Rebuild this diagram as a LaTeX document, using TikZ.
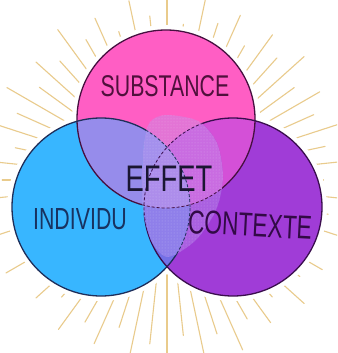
\documentclass[tikz,border=0pt]{standalone}
\usepackage{fontspec}
\setmainfont{Liberation Sans}
\usetikzlibrary{patterns,calc}
\definecolor{raycol}{RGB}{233,203,140}
\definecolor{cpink}{RGB}{255,94,196}
\definecolor{cblue}{RGB}{56,182,255}
\definecolor{cpurp}{RGB}{160,60,215}
\definecolor{ctl}{RGB}{150,140,235}
\definecolor{ctr}{RGB}{212,80,215}
\definecolor{clr}{RGB}{115,112,230}
\definecolor{ctlr}{RGB}{165,135,232}
\definecolor{cegg}{RGB}{185,150,240}
\definecolor{ltop}{RGB}{70,16,64}
\definecolor{lleft}{RGB}{30,46,90}
\definecolor{lright}{RGB}{58,14,78}
\definecolor{tsub}{RGB}{80,16,60}
\definecolor{teff}{RGB}{26,22,50}
\definecolor{tind}{RGB}{24,50,96}
\definecolor{tcon}{RGB}{50,10,70}
\newcommand{\vennfills}{%
  \fill[cpink] (T) circle[radius=89pt];
  \fill[cblue] (L) circle[radius=89pt];
  \fill[cpurp] (R) circle[radius=89pt];
  \begin{scope}\clip (T) circle[radius=89pt];
    \fill[ctl] (L) circle[radius=89pt];
    \fill[ctr] (R) circle[radius=89pt];
  \end{scope}
  \begin{scope}\clip (L) circle[radius=89pt];
    \fill[clr] (R) circle[radius=89pt];
  \end{scope}
  \begin{scope}\clip (T) circle[radius=89pt];\clip (L) circle[radius=89pt];
    \fill[ctlr] (R) circle[radius=89pt];
  \end{scope}}
\newcommand{\eggpath}{plot[smooth cycle] coordinates {(166,115) (198,121) (217,143) (223,177) (216,210) (196,240) (168,257) (152,242) (143,210) (142,177) (144,142) (150,122)}}
\tikzset{
  ray/.style={draw=raycol, line width=1.1pt, line cap=round},
  vlabel/.style={inner sep=0pt, anchor=center},
  dashedline/.style={dash pattern=on 3pt off 2pt, line width=0.8pt}
}
\begin{document}
\begin{tikzpicture}[x=1pt,y=-1pt]
\useasboundingbox (0,0) rectangle (337,353);
\fill[white] (0,0) rectangle (337,353);
\coordinate (C) at (167,180);
\coordinate (T) at (166,119);
\coordinate (L) at (101,207);
\coordinate (R) at (233,207);
% rays
\begin{scope}
\clip (0,0) rectangle (337,353);
\foreach \i in {0,...,59}{
  \pgfmathsetmacro{\ang}{90+6*\i}
  \pgfmathsetmacro{\rout}{ifthenelse(mod(\i,2)==0,181,160)+5*sin(77*\i)}
  \draw[ray] ($(C)+(\ang:60pt)$) -- ($(C)+(\ang:\rout pt)$);
}
\end{scope}
% white halo
\foreach \c in {T,L,R}{\draw[white, line width=10pt] (\c) circle[radius=89pt];}
% fills
\vennfills
% outlines
\draw[ltop, line width=1.3pt] (T) circle[radius=89pt];
\draw[lleft, line width=1.3pt] (L) circle[radius=89pt];
\draw[lright, line width=1.3pt] (R) circle[radius=89pt];
% central dotted region
\begin{scope}
\clip \eggpath;
\vennfills
\fill[cegg, opacity=0.4] (0,0) rectangle (337,353);
\fill[pattern=dots, pattern color=white, fill opacity=0.3] (0,0) rectangle (337,353);
\draw[dashedline, ltop] (T) circle[radius=89pt];
\draw[dashedline, lleft] (L) circle[radius=89pt];
\draw[dashedline, lright] (R) circle[radius=89pt];
\end{scope}
% labels
\node[vlabel, text=tsub] (sub) at (165,86) {\fontsize{30}{30}\selectfont\scalebox{0.71}[1]{SUBSTANCE}};
\node[vlabel, text=teff] (eff) at (169,179) {\fontsize{37}{37}\selectfont\scalebox{0.74}[1]{EFFET}};
\node[vlabel, text=tind] (ind) at (80,219) {\fontsize{30.5}{30.5}\selectfont\scalebox{0.70}[1]{INDIVIDU}};
\node[vlabel, text=tcon, rotate=-3] (con) at (250,225) {\fontsize{33}{33}\selectfont\scalebox{0.69}[1]{CONTEXTE}};
\end{tikzpicture}
\end{document}
